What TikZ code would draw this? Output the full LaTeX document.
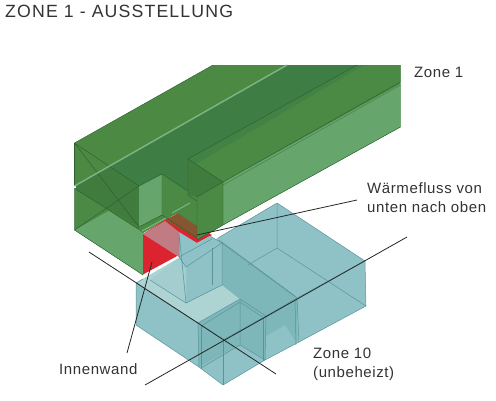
\documentclass[tikz,border=0pt]{standalone}
\usepackage{fontspec}
\setmainfont[LetterSpace=4]{Liberation Sans}
\definecolor{gtop}{HTML}{4C8A44}
\definecolor{ggroove}{HTML}{3E7E44}
\definecolor{glight}{HTML}{66A56B}
\definecolor{gdark}{HTML}{417C3F}
\definecolor{gmid}{HTML}{4A8A44}
\definecolor{gseam}{HTML}{7FB585}
\definecolor{gline}{HTML}{2A5E30}
\definecolor{tbase}{HTML}{8FC2C6}
\definecolor{tpale}{HTML}{AED3D3}
\definecolor{tmid}{HTML}{7DB7BA}
\definecolor{tline}{HTML}{5A949A}
\definecolor{wred}{HTML}{DC2330}
\definecolor{wpink}{HTML}{C07C82}
\definecolor{wbrown}{HTML}{85562F}
\tikzset{
  gedge/.style={draw=gline,line width=0.42pt,line join=round},
  tedge/.style={draw=tline,line width=0.5pt,line join=round},
  leader/.style={draw=black!85,line width=0.8pt},
  label/.style={font=\fontsize{15}{19}\selectfont,text=black!80,inner sep=0pt,anchor=west}
}
\begin{document}
\begin{tikzpicture}[x=1pt,y=-1pt]
\useasboundingbox (0,0) rectangle (496,400);
% Green backing (upper box) and lower box
\fill[gtop] (74.5,143) -- (213,65) -- (400.5,65) -- (400.5,127) -- (223,225) -- (197,241) -- (178,213) -- (74.5,186) -- cycle;
\fill[gmid] (74.5,188.5) -- (140,186) -- (178,213) -- (166,219) -- (143,233) -- (143,275) -- (74.5,230) -- cycle;
% Lower-left faces
\fill[glight] (74.5,188.5) -- (143,233) -- (143,275) -- (74.5,230) -- cycle;
\fill[gmid] (74.5,188.5) -- (110,210) -- (74.5,230) -- cycle;
% Upper-left faces and groove
\fill[gtop] (74.5,143) -- (110,166) -- (74.5,185) -- cycle;
\fill[ggroove] (287,65) -- (357,65) -- (188,159) -- (188,195) -- (197,197) -- (162,174) -- (139,186) -- (110,166) -- cycle;
\fill[gdark] (74.5,185) -- (110,166) -- (139,186) -- (139,227) -- (110,210) -- (74.5,188.5) -- cycle;
% White gap of the seam at the left
\fill[white] (72,185.6) -- (75.5,185.6) -- (75.5,188) -- (72,188) -- cycle;
% Red wall
\fill[wred] (143,234) -- (165,219.5) -- (178,214) -- (197,226) -- (212,235) -- (197,243) -- (179,255) -- (143,274.5) -- cycle;
\fill[wpink] (143,234) -- (165,221) -- (179,232) -- (179,257) -- cycle;
\fill[wbrown] (178,213) -- (166,220.5) -- (197,238) -- (197,226) -- cycle;
% Notch
\fill[gmid] (162,174) -- (197,197) -- (197,226) -- (178,213) -- (166,219) -- (162,215) -- cycle;
\fill[glight] (139,186) -- (162,174) -- (162,215) -- (139,227) -- cycle;
\fill[gmid] (139,227) -- (162,215) -- (166,219) -- (143,233) -- cycle;
\draw[gedge] (74.5,143) -- (139,186) -- (162,174) -- (162,215) -- (139,227) -- cycle;
\draw[gedge] (162,174) -- (197,197);
\draw[gedge] (162,215) -- (197,238);
\draw[gedge] (74.5,143) -- (213,65);
\draw[gedge] (74.5,143) -- (74.5,185);
\draw[gedge] (74.5,188.5) -- (74.5,230) -- (143,275);
\draw[gedge] (74.5,188.5) -- (139,229);
\draw[gedge] (74.5,230) -- (139,186);
% Seams
\draw[gseam,line width=1.4pt] (74.5,186) -- (287,65);
\draw[gseam,line width=1.1pt] (142,231) -- (166,218);
\draw[gseam,line width=1pt] (172,213) -- (190,203);
% Right beam
\fill[gmid] (188,159) -- (357,65) -- (400.5,65) -- (400.5,82) -- (223,182) -- cycle;
\fill[ggroove!70!gmid] (188,159) -- (357,65) -- (364,65) -- (196,164) -- cycle;
\fill[glight] (223,182) -- (400.5,84) -- (400.5,127) -- (223,225) -- cycle;
\draw[gedge] (188,159) -- (357,65);
\draw[gedge] (223,182) -- (400.5,82);
\draw[gedge] (223,225) -- (400.5,127);
\draw[gline!60!glight,line width=0.4pt] (223,185) -- (400.5,85);
% Teal body
\fill[tbase] (136,283) -- (179,258) -- (218,238) -- (277,203) -- (365,261) -- (366,306) -- (299,342) -- (265,360) -- (223,385) -- (199,367) -- (136,325) -- cycle;
\fill[tpale] (136,283) -- (179,258) -- (186,267) -- (186,303) -- (222,285) -- (240,299) -- (198,323) -- cycle;
\fill[tmid] (222,243) -- (297,298) -- (266,316) -- (240,299) -- (222,285) -- cycle;
\fill[tmid] (266,316) -- (297,298) -- (297,343) -- (285,325) -- (266,336) -- cycle;
\fill[tmid] (240,299) -- (266,316) -- (265,360) -- (240,345) -- cycle;
\fill[tmid] (198,323) -- (240,299) -- (240,345) -- (199,367) -- cycle;
% Small cube
\fill[tbase] (179,232) -- (197,243) -- (210,236) -- (222,243) -- (186,267) -- (179,257) -- cycle;
\fill[tbase] (186,267) -- (222,243) -- (222,285) -- (186,303) -- cycle;
\fill[tpale!65!tbase] (150,280) -- (179,258) -- (186,267) -- (186,303) -- cycle;
\draw[tedge] (179,232) -- (179,257) -- (186,267) -- (222,243) -- (222,285) -- (186,303) -- cycle;
\draw[tedge] (186,303) -- (150,280);
\draw[tedge] (210,236) -- (222,243);
\draw[tedge] (179,257) -- (212,239);
\draw[tedge] (212,248) -- (212,285);
% Outline
\draw[tedge] (218,238) -- (277,203) -- (365,261) -- (366,306) -- (299,342) -- (265,360) -- (223,385) -- (199,367) -- (136,325) -- (136,283) -- (198,323);
\draw[tedge] (136,283) -- (143,279);
\draw[tedge] (277,203) -- (277,248) -- (366,306);
\draw[tedge] (277,248) -- (248,265);
\draw[tedge] (222,243) -- (297,298) -- (365,261);
\draw[tedge] (219,240) -- (295,296);
\draw[tedge] (297,298) -- (299,342);
\draw[tedge] (295,298) -- (296,345);
% Front cube
\draw[tedge] (198,323) -- (240,299) -- (266,316) -- (297,298);
\draw[tedge] (201,326) -- (240,302) -- (264,318);
\draw[tedge] (198,323) -- (223,340) -- (266,316) -- (265,360);
\draw[tedge] (223,340) -- (223,385);
\draw[tedge] (198,323) -- (199,367);
\draw[tedge] (201,326) -- (201,369);
\draw[tedge] (240,299) -- (240,345) -- (265,360);
\draw[tedge] (240,345) -- (201,368);
\draw[tedge] (263,318) -- (263,361);
% Long black lines
\coordinate (la) at (89,252);
\coordinate (lb) at (276,374);
\coordinate (lc) at (145,385);
\coordinate (ld) at (407,237);
\draw[leader] (la) -- (lb);
\draw[leader] (lc) -- (ld);
% Front green box overlay
\fill[gdark] (188,159) -- (223,182) -- (197,197) -- (188,195) -- cycle;
\fill[gmid] (197,197) -- (223,182) -- (223,225) -- (197,240) -- cycle;
\fill[gmid] (188,195) -- (197,197) -- (197,201) -- cycle;
\draw[gedge] (188,159) -- (223,182) -- (223,225) -- (197,240) -- (197,197) -- (223,182);
\draw[gedge] (188,159) -- (188,195) -- (197,201);
% Labels
\node[inner sep=0pt,anchor=west,font=\fontsize{17.7}{22}\selectfont\addfontfeature{LetterSpace=6.5},text=black!80] (title) at (5,11) {ZONE 1 - AUSSTELLUNG};
\node[label] (zone1) at (414,72) {Zone 1};
\node[label,align=left] (waerme) at (367,198) {Wärmefluss von\\unten nach oben};
\node[label] (innen) at (59,369) {Innenwand};
\node[label,align=left] (zone10) at (313,364) {Zone 10\\(unbeheizt)};
% Leaders
\coordinate (wa) at (197,235);
\coordinate (wb) at (357,200);
\coordinate (ia) at (152,262);
\coordinate (ib) at (127,353);
\draw[leader] (wa) -- (wb);
\draw[leader] (ia) -- (ib);
\end{tikzpicture}
\end{document}
